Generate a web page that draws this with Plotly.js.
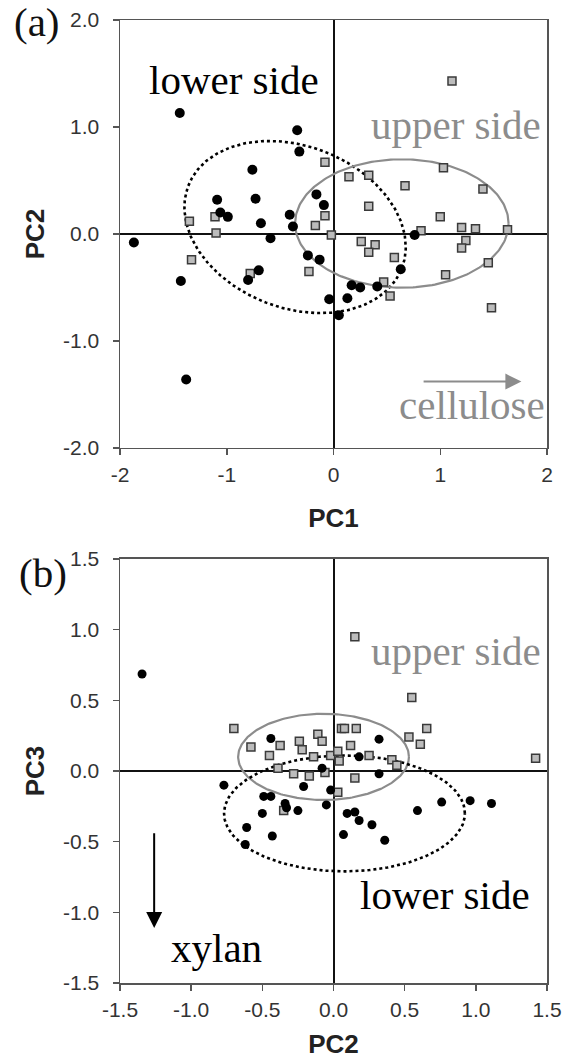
<!DOCTYPE html>
<html>
<head>
<meta charset="utf-8">
<script src="https://cdn.plot.ly/plotly-3.0.1.min.js"></script>
<style>html,body{margin:0;padding:0;background:#fff;}#chart{width:566px;height:1059px;}</style>
</head>
<body>
<div id="chart"></div>
<script>
// ---- Panel (a): PC1 vs PC2 ----
var aLowerPC1 = [-1.44,-0.34,-0.32,-0.76,-1.09,-0.73,-1.06,-0.99,-0.68,-0.41,-0.38,-0.16,-0.09,-0.59,-1.87,-0.24,-0.13,-0.70,-0.80,-1.43,-0.04,0.05,-1.38,0.76,0.63,0.17,0.25,0.41,0.13];
var aLowerPC2 = [1.13,0.97,0.77,0.60,0.32,0.33,0.20,0.16,0.10,0.18,0.07,0.37,0.27,-0.04,-0.08,-0.20,-0.24,-0.34,-0.43,-0.44,-0.61,-0.76,-1.36,-0.01,-0.33,-0.48,-0.50,-0.49,-0.60];
var aUpperPC1 = [-0.08,-1.35,-1.11,-1.10,-0.17,-0.08,-0.02,-1.33,-0.78,-0.23,1.11,0.145,0.33,1.03,0.67,1.40,0.33,1.00,0.82,1.20,1.33,1.63,1.24,1.20,0.26,0.39,0.33,0.57,1.45,1.05,0.47,0.53,1.48];
var aUpperPC2 = [0.67,0.12,0.16,0.01,0.08,0.17,-0.01,-0.24,-0.37,-0.35,1.43,0.535,0.55,0.62,0.45,0.42,0.26,0.16,0.03,0.06,0.05,0.04,-0.06,-0.13,-0.07,-0.10,-0.17,-0.22,-0.27,-0.38,-0.45,-0.58,-0.69];

// ---- Panel (b): PC2 vs PC3 ----
var bLowerPC2 = [-1.345,-0.44,-0.08,-0.77,-0.21,-0.02,-0.49,-0.44,-0.34,-0.33,-0.25,-0.05,-0.50,0.096,0.15,0.18,-0.61,0.18,0.32,0.32,0.27,0.59,0.76,0.96,1.11,0.07,0.36,-0.62,-0.43];
var bLowerPC3 = [0.686,0.23,0.02,-0.10,-0.11,-0.135,-0.18,-0.18,-0.23,-0.26,-0.28,-0.24,-0.30,-0.30,-0.29,-0.35,-0.40,0.10,0.225,-0.02,-0.38,-0.28,-0.22,-0.21,-0.23,-0.45,-0.49,-0.52,-0.46];
var bUpperPC2 = [-0.70,-0.58,-0.45,-0.375,-0.24,-0.22,-0.11,-0.08,-0.14,-0.02,0.03,0.04,0.056,0.077,0.16,0.12,-0.39,-0.28,-0.17,-0.06,0.15,0.03,-0.35,0.15,0.55,0.655,0.53,0.61,0.25,0.41,0.445,1.42];
var bUpperPC3 = [0.30,0.17,0.11,0.18,0.21,0.15,0.26,0.21,0.10,0.11,0.14,0.07,0.30,0.30,0.30,0.18,0.02,-0.02,-0.035,-0.01,-0.05,-0.15,-0.28,0.95,0.52,0.30,0.24,0.19,0.11,0.08,0.04,0.09];

// ---- Group ellipses: [centerX, centerY, semiAxisX, semiAxisY, rotationDeg] ----
var aLowerEllipse = [-0.36, 0.065, 1.072, 0.757, -21];
var aUpperEllipse = [0.64, 0.098, 1.00, 0.60, 0];
var bUpperEllipse = [-0.07, 0.10, 0.60, 0.305, 0];
var bLowerEllipse = [0.077, -0.30, 0.846, 0.41, 0];

// ---- Tick labels ----
var aXTickVals = [-2,-1,0,1,2];
var aXTickText = ["-2","-1","0","1","2"];
var aYTickVals = [-2,-1,0,1,2];
var aYTickText = ["-2.0","-1.0","0.0","1.0","2.0"];
var bTickVals = [-1.5,-1.0,-0.5,0,0.5,1.0,1.5];
var bTickText = ["-1.5","-1.0","-0.5","0.0","0.5","1.0","1.5"];

function ellipseXY(p){
  var xs=[], ys=[], th=p[4]*Math.PI/180;
  for(var i=0;i<=240;i++){
    var t=2*Math.PI*i/240;
    var ex=p[2]*Math.cos(t), ey=p[3]*Math.sin(t);
    xs.push(p[0]+ex*Math.cos(th)-ey*Math.sin(th));
    ys.push(p[1]+ex*Math.sin(th)+ey*Math.cos(th));
  }
  return {x:xs,y:ys};
}

var GREY='#8c8c8c';
var sqMarker={symbol:'square',size:8,color:'#bcbcbc',line:{color:'#3a3a3a',width:1.5}};
var dotMarker={symbol:'circle',size:10,color:'#000'};

var eAL=ellipseXY(aLowerEllipse), eAU=ellipseXY(aUpperEllipse);
var eBU=ellipseXY(bUpperEllipse), eBL=ellipseXY(bLowerEllipse);

var traces=[
  {x:eAL.x,y:eAL.y,mode:'lines',line:{color:'#000',width:2.6,dash:'dot'},xaxis:'x',yaxis:'y',hoverinfo:'skip'},
  {x:eAU.x,y:eAU.y,mode:'lines',line:{color:GREY,width:2.2},xaxis:'x',yaxis:'y',hoverinfo:'skip'},
  {x:aUpperPC1,y:aUpperPC2,mode:'markers',marker:sqMarker,xaxis:'x',yaxis:'y',name:'upper side'},
  {x:aLowerPC1,y:aLowerPC2,mode:'markers',marker:dotMarker,xaxis:'x',yaxis:'y',name:'lower side'},
  {x:eBU.x,y:eBU.y,mode:'lines',line:{color:GREY,width:2.2},xaxis:'x2',yaxis:'y2',hoverinfo:'skip'},
  {x:eBL.x,y:eBL.y,mode:'lines',line:{color:'#000',width:2.6,dash:'dot'},xaxis:'x2',yaxis:'y2',hoverinfo:'skip'},
  {x:bUpperPC2,y:bUpperPC3,mode:'markers',marker:sqMarker,xaxis:'x2',yaxis:'y2',name:'upper side'},
  {x:bLowerPC2,y:bLowerPC3,mode:'markers',marker:{symbol:'circle',size:9,color:'#000'},xaxis:'x2',yaxis:'y2',name:'lower side'}
];

var SANS='Liberation Sans, Arial, sans-serif';
var SERIF='Liberation Serif, Times New Roman, serif';
var tickFont={family:SANS,size:21,color:'#333'};
var titleFont={family:SANS,size:26,color:'#222',weight:'bold'};

function axis(extra){
  var base={showgrid:false,zeroline:true,zerolinecolor:'#111',zerolinewidth:2,
    showline:true,linecolor:'#555',linewidth:1.5,mirror:true,
    ticks:'outside',ticklen:6,tickwidth:1.5,tickcolor:'#555',
    tickfont:tickFont,tickmode:'array',fixedrange:true};
  for(var k in extra) base[k]=extra[k];
  return base;
}

var layout={
  width:566,height:1059,
  margin:{l:120,r:19,t:20,b:76},
  paper_bgcolor:'#fff',plot_bgcolor:'#fff',
  showlegend:false,
  xaxis:axis({domain:[0,1],range:[-2,2],tickvals:aXTickVals,ticktext:aXTickText,anchor:'y',ticklabelstandoff:1,
    title:{text:'PC1',font:titleFont,standoff:24}}),
  yaxis:axis({domain:[0.5556,1],range:[-2,2],tickvals:aYTickVals,ticktext:aYTickText,anchor:'x',ticklabelstandoff:9,
    title:{text:'PC2',font:titleFont,standoff:11}}),
  xaxis2:axis({domain:[0,1],range:[-1.5,1.5],tickvals:bTickVals,ticktext:bTickText,anchor:'y2',ticklabelstandoff:1,
    title:{text:'PC2',font:titleFont,standoff:24}}),
  yaxis2:axis({domain:[0,0.4403],range:[-1.5,1.5],tickvals:bTickVals,ticktext:bTickText,anchor:'x2',ticklabelstandoff:9,
    title:{text:'PC3',font:titleFont,standoff:11}}),
  annotations:[
    {xref:'paper',yref:'paper',x:-0.194,y:0.998,text:'(a)',showarrow:false,xanchor:'center',yanchor:'middle',font:{family:SERIF,size:41,color:'#111'}},
    {xref:'paper',yref:'paper',x:-0.18,y:0.4258,text:'(b)',showarrow:false,xanchor:'center',yanchor:'middle',font:{family:SERIF,size:41,color:'#111'}},
    {xref:'x',yref:'y',x:-0.93,y:1.44,text:'lower side',showarrow:false,xanchor:'center',yanchor:'middle',font:{family:SERIF,size:41,color:'#000'}},
    {xref:'x',yref:'y',x:1.15,y:1.02,text:'upper side',showarrow:false,xanchor:'center',yanchor:'middle',font:{family:SERIF,size:41,color:GREY}},
    {xref:'x',yref:'y',x:1.30,y:-1.60,text:'cellulose',showarrow:false,xanchor:'center',yanchor:'middle',font:{family:SERIF,size:41,color:GREY}},
    {xref:'x',yref:'y',x:1.76,y:-1.38,ax:0.83,ay:-1.38,axref:'x',ayref:'y',text:'',showarrow:true,arrowhead:2,arrowsize:1.6,arrowwidth:2,arrowcolor:GREY},
    {xref:'x2',yref:'y2',x:0.86,y:0.85,text:'upper side',showarrow:false,xanchor:'center',yanchor:'middle',font:{family:SERIF,size:41,color:GREY}},
    {xref:'x2',yref:'y2',x:0.78,y:-0.88,text:'lower side',showarrow:false,xanchor:'center',yanchor:'middle',font:{family:SERIF,size:41,color:'#000'}},
    {xref:'x2',yref:'y2',x:-0.825,y:-1.25,text:'xylan',showarrow:false,xanchor:'center',yanchor:'middle',font:{family:SERIF,size:41,color:'#000'}},
    {xref:'x2',yref:'y2',x:-1.26,y:-1.11,ax:-1.26,ay:-0.43,axref:'x2',ayref:'y2',text:'',showarrow:true,arrowhead:2,arrowsize:1.6,arrowwidth:2,arrowcolor:'#000'}
  ]
};

Plotly.newPlot('chart',traces,layout,{displayModeBar:false,staticPlot:true});
</script>
</body>
</html>
